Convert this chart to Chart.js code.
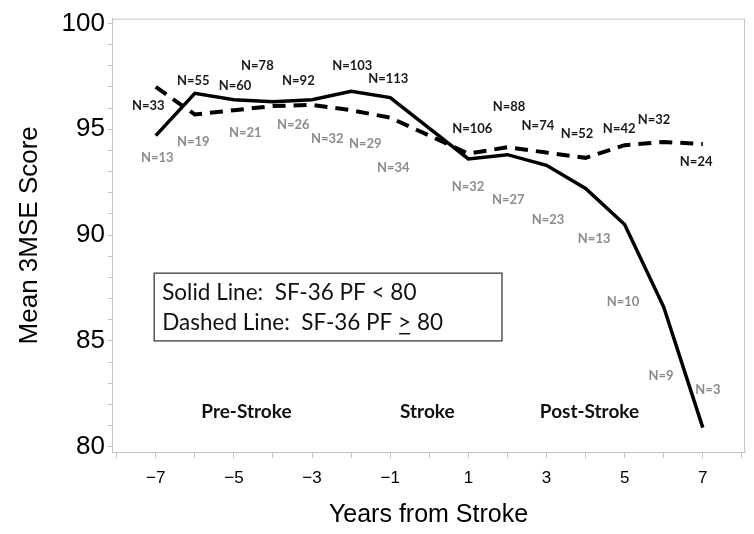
<!DOCTYPE html>
<html>
<head>
<meta charset="utf-8">
<script src="https://cdn.jsdelivr.net/npm/chart.js@4.4.0/dist/chart.umd.min.js"></script>
<style>
  html, body { margin: 0; padding: 0; background: #fff; }
  #wrap { width: 754px; height: 534px; }
</style>
</head>
<body>
<div id="wrap"><canvas id="strokeChart"></canvas></div>
<script>
// years relative to stroke (no measurement at year 0)
const years = [-7, -6, -5, -4, -3, -2, -1, 1, 2, 3, 4, 5, 6, 7];
const solidScores = [94.7, 96.7, 96.4, 96.3, 96.4, 96.8, 96.5, 93.6, 93.8, 93.3, 92.2, 90.5, 86.6, 80.9];
const dashedScores = [97.0, 95.7, 95.9, 96.1, 96.15, 95.9, 95.55, 93.85, 94.15, 93.9, 93.65, 94.25, 94.4, 94.3];
const solidN = [13, 19, 21, 26, 32, 29, 34, 32, 27, 23, 13, 10, 9, 3];
const dashedN = [33, 55, 60, 78, 92, 103, 113, 106, 88, 74, 52, 42, 32, 24];
const yTickValues = [80, 81, 82, 83, 84, 85, 86, 87, 88, 89, 90, 91, 92, 93, 94, 95, 96, 97, 98, 99, 100];
const xTickValues = [-8, -7, -6, -5, -4, -3, -2, -1, 0, 1, 2, 3, 4, 5, 6, 7, 8];
const periods = ['Pre-Stroke', 'Stroke', 'Post-Stroke'];
const legendLines = ['Solid Line:  SF-36 PF < 80', 'Dashed Line:  SF-36 PF > 80'];

// where the N= labels sit, in axis units
const solidLabelX = [-6.96, -6.04, -4.71, -3.48, -2.61, -1.64, -0.92, 0.99, 2.02, 3.04, 4.22, 4.96, 5.93, 7.13];
const solidLabelY = [93.67, 94.42, 94.84, 95.22, 94.56, 94.33, 93.2, 92.26, 91.65, 90.72, 89.83, 86.87, 83.36, 82.7];
const dashedLabelX = [-7.19, -6.04, -4.97, -4.40, -3.35, -1.97, -1.05, 1.10, 2.04, 2.78, 3.78, 4.86, 5.75, 6.83];
const dashedLabelY = [96.11, 97.28, 97.04, 97.98, 97.28, 97.98, 97.37, 95.03, 96.06, 95.17, 94.79, 95.03, 95.45, 93.48];
const periodX = [-4.68, -0.05, 4.10];
const periodY = 81.63;

const toPoints = (xs, ys) => xs.map((x, i) => ({ x: x, y: ys[i] }));

const annotations = {
    id: 'annotations',
    afterDatasetsDraw(chart) {
        const { ctx, chartArea: a, scales: { x, y } } = chart;
        ctx.save();

        // frame round the plot
        ctx.strokeStyle = '#c4c4c4';
        ctx.lineWidth = 1;
        ctx.strokeRect(a.left + 0.5, a.top + 0.5, a.right - a.left - 1, a.bottom - a.top);

        ctx.textAlign = 'center';
        ctx.textBaseline = 'middle';
        ctx.font = 'bold 13px Lato';
        ctx.fillStyle = '#8c8c8c';
        solidN.forEach((n, i) => {
            ctx.fillText('N=' + n, x.getPixelForValue(solidLabelX[i]), y.getPixelForValue(solidLabelY[i]));
        });
        ctx.fillStyle = '#1a1a1a';
        dashedN.forEach((n, i) => {
            ctx.fillText('N=' + n, x.getPixelForValue(dashedLabelX[i]), y.getPixelForValue(dashedLabelY[i]));
        });

        ctx.font = 'bold 19px Lato';
        ctx.fillStyle = '#111';
        periods.forEach((p, i) => {
            ctx.fillText(p, x.getPixelForValue(periodX[i]), y.getPixelForValue(periodY));
        });

        // legend box
        const bx1 = x.getPixelForValue(-7.04), bx2 = x.getPixelForValue(1.86);
        const by1 = y.getPixelForValue(88.2), by2 = y.getPixelForValue(85.0);
        ctx.strokeStyle = '#555';
        ctx.lineWidth = 1.5;
        ctx.strokeRect(bx1, by1, bx2 - bx1, by2 - by1);
        ctx.font = '22.5px Lato';
        ctx.fillStyle = '#111';
        ctx.textAlign = 'left';
        const ty1 = y.getPixelForValue(87.26), ty2 = y.getPixelForValue(85.86);
        ctx.fillText(legendLines[0], bx1 + 8, ty1);
        ctx.fillText(legendLines[1], bx1 + 8, ty2);
        // underline the ">" to read as "greater or equal"
        const pre = legendLines[1].slice(0, legendLines[1].indexOf('>'));
        const gx = bx1 + 8 + ctx.measureText(pre).width;
        const gw = ctx.measureText('>').width;
        ctx.lineWidth = 1.5;
        ctx.strokeStyle = '#111';
        ctx.beginPath();
        ctx.moveTo(gx + 1, ty2 + 11);
        ctx.lineTo(gx + gw - 1, ty2 + 11);
        ctx.stroke();

        ctx.restore();
    }
};

const ctx = document.getElementById('strokeChart');

new Chart(ctx, {
    type: 'line',
    data: {
        datasets: [{
            label: 'SF-36 PF < 80',
            data: toPoints(years, solidScores),
            borderColor: '#000',
            borderWidth: 3.5,
            pointRadius: 0,
            tension: 0
        }, {
            label: 'SF-36 PF >= 80',
            data: toPoints(years, dashedScores),
            borderColor: '#000',
            borderWidth: 4,
            borderDash: [13, 8],
            pointRadius: 0,
            tension: 0
        }]
    },
    options: {
        responsive: true,
        maintainAspectRatio: false,
        animation: false,
        layout: { padding: { top: 15, right: 9, left: 0, bottom: 0 } },
        plugins: {
            legend: { display: false },
            tooltip: { enabled: false }
        },
        scales: {
            x: {
                type: 'linear',
                min: -8.12,
                max: 8.08,
                afterBuildTicks: (scale) => { scale.ticks = xTickValues.map(v => ({ value: v })); },
                afterFit: (scale) => { scale.height = 82; },
                grid: {
                    drawOnChartArea: false,
                    drawTicks: true,
                    tickLength: 6,
                    color: '#c4c4c4'
                },
                border: { color: '#c4c4c4' },
                ticks: {
                    autoSkip: false,
                    maxRotation: 0,
                    padding: 10,
                    color: '#000',
                    font: { family: 'Liberation Sans', size: 17 },
                    callback: (v) => (Math.abs(v) % 2 === 1 ? (v < 0 ? '\u2212' + Math.abs(v) : String(v)) : '')
                },
                title: {
                    display: true,
                    text: 'Years from Stroke',
                    color: '#000',
                    font: { family: 'Liberation Sans', size: 25 },
                    padding: { top: 0, bottom: 4 }
                }
            },
            y: {
                min: 79.75,
                max: 100.23,
                afterBuildTicks: (scale) => { scale.ticks = yTickValues.map(v => ({ value: v })); },
                afterFit: (scale) => { scale.width = 112; },
                grid: {
                    drawOnChartArea: false,
                    drawTicks: true,
                    tickLength: 4,
                    color: '#c4c4c4'
                },
                border: { color: '#c4c4c4' },
                ticks: {
                    autoSkip: false,
                    padding: 3,
                    color: '#000',
                    font: { family: 'Liberation Sans', size: 26 },
                    callback: (v) => (v % 5 === 0 ? String(v) : '')
                },
                title: {
                    display: true,
                    text: 'Mean 3MSE Score',
                    color: '#000',
                    font: { family: 'Liberation Sans', size: 26 },
                    padding: { top: 14, bottom: 0 }
                }
            }
        }
    },
    plugins: [annotations]
});
</script>
</body>
</html>
